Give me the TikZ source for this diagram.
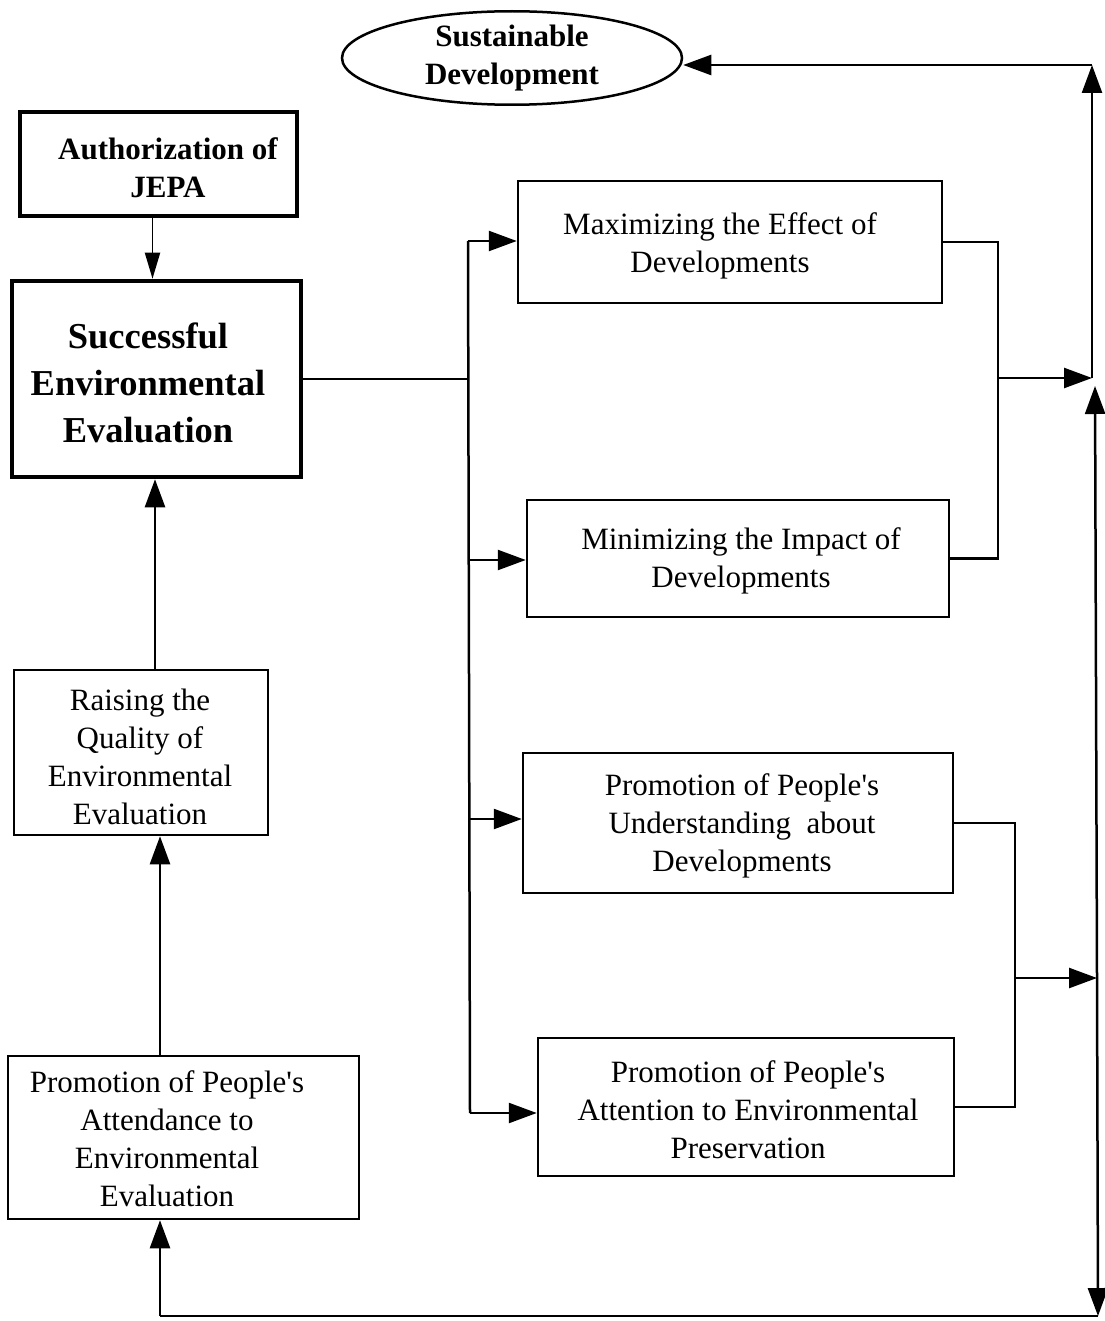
\documentclass[tikz,border=0pt]{standalone}
\usepackage{fontspec}
\setmainfont{Liberation Serif}
\usetikzlibrary{arrows.meta,shapes.geometric,calc}
\begin{document}
\begin{tikzpicture}[x=1pt,y=-1pt,
  txt/.style={font=\fontsize{31}{38}\selectfont, align=center, inner sep=0pt},
  boldtxt/.style={font=\fontsize{31}{38}\selectfont\bfseries, align=center, inner sep=0pt},
  box/.style={draw, line width=2.5pt, inner sep=0pt},
  thickbox/.style={draw, line width=4.5pt, inner sep=0pt},
  conn/.style={line width=2.5pt},
  arr/.style={conn, -{Triangle[length=28pt,width=20pt]}},
  smallarr/.style={line width=1.8pt, -{Triangle[length=26pt,width=15pt]}}
]
\useasboundingbox (0,0) rectangle (1104,1321);

% goal
\node[draw, ellipse, line width=2.5pt, minimum width=340pt, minimum height=80pt,
      boldtxt] (sd) at (512,58) {Sustainable\\Development};

% left column
\node[thickbox, minimum width=277pt, minimum height=104pt] (jepa) at (158.5,164) {};
\node[boldtxt] (jepat) at (168,168) {Authorization of\\JEPA};

\node[thickbox, minimum width=289pt, minimum height=196pt] (see) at (156.5,379) {};
\node[font=\fontsize{36.5}{47}\selectfont\bfseries, align=center, inner sep=0pt]
      (seet) at (148,383) {Successful\\Environmental\\Evaluation};

\node[box, minimum width=254pt, minimum height=165pt] (rq) at (141,752.5) {};
\node[txt] (rqt) at (140,757) {Raising the\\Quality of\\Environmental\\Evaluation};

\node[box, minimum width=351pt, minimum height=163pt] (pa) at (183.5,1137.5) {};
\node[txt] (pat) at (167,1139) {Promotion of People\textquotesingle s\\Attendance to\\Environmental\\Evaluation};

% right column
\node[box, minimum width=424pt, minimum height=122pt] (max) at (730,242) {};
\node[txt] (maxt) at (720,246) {Maximizing the Effect of\\Developments};

\node[box, minimum width=422pt, minimum height=117pt] (min) at (738,558.5) {};
\node[txt] (mint) at (741,561) {Minimizing the Impact of\\Developments};

\node[box, minimum width=430pt, minimum height=140pt] (und) at (738,823) {};
\node[txt] (undt) at (742,826) {Promotion of People\textquotesingle s\\Understanding\ \ about\\Developments};

\node[box, minimum width=416pt, minimum height=138pt] (att) at (746,1107) {};
\node[txt] (attt) at (748,1110) {Promotion of People\textquotesingle s\\Attention to Environmental\\Preservation};

% junction points
\coordinate (b1) at (468,241);
\coordinate (b2) at (468,560);
\coordinate (b3) at (468,819);
\coordinate (b4) at (470,1113);
\coordinate (r1) at (998,378);
\coordinate (t1) at (1092,378);
\coordinate (top) at (1092,65);
\coordinate (r2) at (1015,978);
\coordinate (t2) at (1097,978);
\coordinate (up2) at (1095,386);
\coordinate (bot) at (1098,1316);
\coordinate (botl) at (160,1316);

% left column links
\draw[smallarr] ([xshift=-6pt]jepa.south) -- ([xshift=-6pt]jepa.south |- see.north);
\draw[arr] ([xshift=14pt]rq.north) -- ([xshift=14pt]rq.north |- see.south);
\draw[arr] (pa.north -| botl) -- (rq.south -| botl);

% distribution bus
\draw[conn] (see.east) -- (see.east -| b1);
\draw[conn] (b1) -- (b4);
\draw[arr] (b1) -- (b1 -| max.west);
\draw[arr] (b2) -- (b2 -| min.west);
\draw[arr] (b3) -- (b3 -| und.west);
\draw[arr] (b4) -- (b4 -| att.west);

% upper merge
\draw[conn] (max.east) -| (r1) |- (min.east);
\draw[arr] (r1) -- (t1);
\draw[arr] (t1) -- (top);
\draw[arr] (top) -- (top -| sd.east);

% lower merge
\draw[conn] (und.east) -| (r2) |- (att.east);
\draw[arr] (r2) -- (t2);
\draw[arr] (t2) -- (up2);
\draw[arr] (t2) -- (bot);
\draw[conn] (bot) -- (botl);
\draw[arr] (botl) -- (pa.south -| botl);
\end{tikzpicture}
\end{document}
